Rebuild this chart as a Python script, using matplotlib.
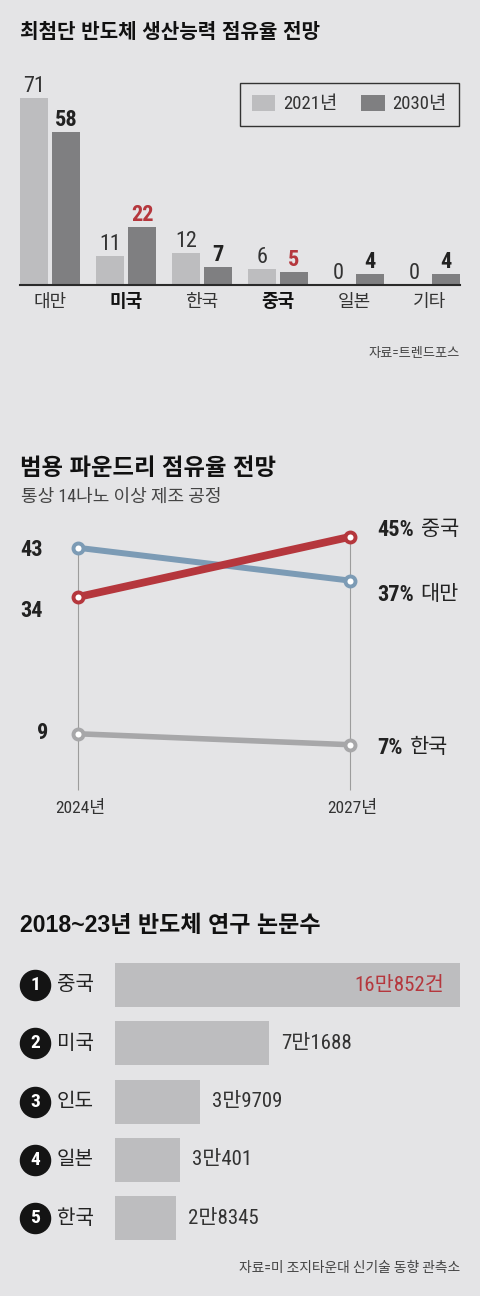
import numpy as np
import matplotlib
matplotlib.use('Agg')
import matplotlib.pyplot as plt
from matplotlib import font_manager as fm
import matplotlib.transforms as mtransforms

# ---------------- data ----------------
cap_title = '최첨단 반도체 생산능력 점유율 전망'
cap_categories = ['대만', '미국', '한국', '중국', '일본', '기타']
cap_2021 = [71, 11, 12, 6, 0, 0]
cap_2030 = [58, 22, 7, 5, 4, 4]
cap_series = ['2021년', '2030년']
cap_bold = ['미국', '중국']
cap_red_2030 = ['미국', '중국']
cap_source = '자료=트렌드포스'

fd_title = '범용 파운드리 점유율 전망'
fd_subtitle = '통상 14나노 이상 제조 공정'
fd_years = ['2024년', '2027년']
fd_countries = ['한국', '대만', '중국']
fd_korea = [9, 7]
fd_taiwan = [43, 37]
fd_china = [34, 45]

pp_title = '2018~23년 반도체 연구 논문수'
pp_countries = ['중국', '미국', '인도', '일본', '한국']
pp_values = [160852, 71688, 39709, 30401, 28345]
pp_labels = ['16만852건', '7만1688', '3만9709', '3만401', '2만8345']
pp_source = '자료=미 조지타운대 신기술 동향 관측소'

# ---------------- fonts ----------------
names = {f.name for f in fm.fontManager.ttflist}
def pick(*cands):
    for c in cands:
        if c in names:
            return c
    return cands[-1]
NARROW = pick('Liberation Sans Narrow', 'Roboto Condensed', 'Liberation Sans')
REG = pick('Liberation Sans', 'Roboto', 'DejaVu Sans')
KR = 'Noto Sans CJK KR'
FAM_N = [NARROW, KR, 'DejaVu Sans']
FAM_R = [REG, KR, 'DejaVu Sans']
plt.rcParams['font.family'] = FAM_N

# ---------------- style ----------------
W, H = 480, 1296
BG = '#e4e4e6'
LIGHT = '#bdbdbf'
DARK = '#7f7f81'
RED = '#b5373d'
BLUE = '#7c9bb5'
GRAY = '#a7a7a9'
TXT = '#222222'
SUB = '#444444'

fig = plt.figure(figsize=(W / 100, H / 100), dpi=100, facecolor=BG)

def add_ax(l, t, r, b):
    ax = fig.add_axes([l / W, 1 - b / H, (r - l) / W, (b - t) / H])
    ax.set_facecolor('none')
    for s in ax.spines.values():
        s.set_visible(False)
    ax.tick_params(length=0)
    ax.set_xticks([])
    ax.set_yticks([])
    return ax

def ftext(x, y, s, **kw):
    kw.setdefault('va', 'center')
    return fig.text(x / W, 1 - y / H, s, **kw)

# =============== Panel 1: grouped bars ===============
ftext(20, 32, cap_title, fontsize=14.5, fontweight='bold', color='#111', family=FAM_R)

ax1 = add_ax(20, 60, 460, 285)
GS = 76.0
PX1 = 2.63
x = np.arange(len(cap_categories))
off = 16 / GS
bw = 28 / GS
ax1.set_xlim(-30 / GS, len(x) - 1 + 30 / GS)
ax1.set_ylim(0, (285 - 60) / PX1)
ax1.bar(x - off, cap_2021, bw, color=LIGHT, label=cap_series[0], zorder=2)
ax1.bar(x + off, cap_2030, bw, color=DARK, label=cap_series[1], zorder=2)
ax1.spines['bottom'].set_visible(True)
ax1.spines['bottom'].set_color('#2a2a2a')
ax1.spines['bottom'].set_linewidth(1.5)
ax1.spines['bottom'].set_zorder(3)

for i, (c, v1, v2) in enumerate(zip(cap_categories, cap_2021, cap_2030)):
    ax1.annotate(str(v1), (i - off, v1), xytext=(0, 6), textcoords='offset pixels',
                 ha='center', va='baseline', fontsize=16, color='#333', annotation_clip=False)
    ax1.annotate(str(v2), (i + off, v2), xytext=(0, 6), textcoords='offset pixels',
                 ha='center', va='baseline', fontsize=16, fontweight='bold',
                 color=RED if c in cap_red_2030 else TXT, annotation_clip=False)
    ax1.annotate(c, (i, 0), xycoords=('data', 'axes fraction'), xytext=(0, -17),
                 textcoords='offset pixels', ha='center', va='center', fontsize=13,
                 fontweight='bold' if c in cap_bold else 'normal',
                 color='#111' if c in cap_bold else '#333', annotation_clip=False)

leg = ax1.legend(ncol=2, loc='upper right', bbox_to_anchor=(459 / W, 1 - 83 / H),
                 bbox_transform=fig.transFigure, borderaxespad=0, frameon=True,
                 fancybox=False, edgecolor='#333', facecolor=BG, framealpha=1,
                 fontsize=13.5, handlelength=1.23, handleheight=0.9, handletextpad=0.43,
                 columnspacing=1.28, borderpad=0.65)
leg.get_frame().set_linewidth(1.0)
for t in leg.get_texts():
    t.set_color('#333')

ftext(460, 353, cap_source, ha='right', fontsize=9.5, color=SUB)

# =============== Panel 2: slope chart ===============
ftext(20, 468, fd_title, fontsize=16.8, fontweight='bold', color='#111', family=FAM_R)
ftext(21, 497, fd_subtitle, fontsize=13, color=SUB)

ax2 = add_ax(20, 510, 460, 800)
XS = 272.0
PX2 = 5.47
Y0 = 783.0
ax2.set_xlim(-58 / XS, 1 + 110 / XS)
ax2.set_ylim((Y0 - 800) / PX2, (Y0 - 510) / PX2)
xs = np.arange(len(fd_years))

series = [(fd_korea, GRAY, 4.0), (fd_taiwan, BLUE, 4.3), (fd_china, RED, 5.6)]
tops = np.max([s[0] for s in series], axis=0)
ax2.vlines(xs, (Y0 - 790) / PX2, tops, color='#9c9c9c', lw=0.8, zorder=1)
for vals, col, lw in series:
    ax2.plot(xs, vals, color=col, lw=lw, marker='o', ms=7.2, mfc='white', mec=col,
             mew=2.8, solid_capstyle='butt', zorder=3)

# left value labels (2024)
left_layout = {'한국': ('right', -30, 1), '대만': ('left', -58, -2), '중국': ('left', -58, -14)}
# right value labels (2027)
right_layout = {'한국': -3, '대만': -14, '중국': 7}
for name, (vals, col, lw) in zip(fd_countries, series):
    ha, dx, dy = left_layout[name]
    ax2.annotate(str(vals[0]), (0, vals[0]), xytext=(dx, dy), textcoords='offset pixels',
                 ha=ha, va='center', fontsize=16, fontweight='bold', color=TXT)
    t1 = ax2.annotate(f'{vals[1]}%', (1, vals[1]), xytext=(27, right_layout[name]),
                      textcoords='offset pixels', ha='left', va='center', fontsize=16,
                      fontweight='bold', color=TXT)
    ax2.annotate(name, (1, 0.5), xycoords=t1, xytext=(7, 0), textcoords='offset pixels',
                 ha='left', va='center', fontsize=15, color=TXT)

for xi, yl in zip(xs, fd_years):
    ax2.annotate(yl, (xi, 0), xycoords=('data', 'axes fraction'), xytext=(2, -8),
                 textcoords='offset pixels', ha='center', va='center', fontsize=12.5,
                 color='#333', annotation_clip=False)

# =============== Panel 3: horizontal bars ===============
ftext(20, 925, pp_title, fontsize=16.6, fontweight='bold', color='#111', family=FAM_R)

ax3 = add_ax(115, 950, 465, 1255)
PX3 = 345.0 / pp_values[0]
SP = 58.3
ax3.set_xlim(0, 350 / PX3)
ax3.set_ylim((1255 - 985) / SP, (950 - 985) / SP)
ys = np.arange(len(pp_countries))
ax3.barh(ys, pp_values, height=44 / SP, color=LIGHT, zorder=2)

bt = mtransforms.blended_transform_factory(ax3.transAxes, ax3.transData)
circ_x = (35 - 115) / 350.0
name_x = (57 - 115) / 350.0
ax3.scatter([circ_x] * len(ys), ys, s=470, color='#141414', transform=bt, clip_on=False, zorder=3)
vmax = max(pp_values)
for i, (c, v, lab) in enumerate(zip(pp_countries, pp_values, pp_labels)):
    ax3.text(circ_x, i, str(i + 1), transform=bt, ha='center', va='center', fontsize=14,
             fontweight='bold', color='white', zorder=4)
    ax3.text(name_x, i, c, transform=bt, ha='left', va='center', fontsize=14.5, color=TXT)
    if v == vmax:
        ax3.annotate(lab, (v, i), xytext=(-16, 0), textcoords='offset pixels', ha='right',
                     va='center', fontsize=15, color=RED, zorder=4)
    else:
        ax3.annotate(lab, (v, i), xytext=(12, 0), textcoords='offset pixels', ha='left',
                     va='center', fontsize=15, color='#333')

ftext(460, 1268, pp_source, ha='right', fontsize=9.9, color=SUB)

fig.savefig('out.png', dpi=100, facecolor=BG)
